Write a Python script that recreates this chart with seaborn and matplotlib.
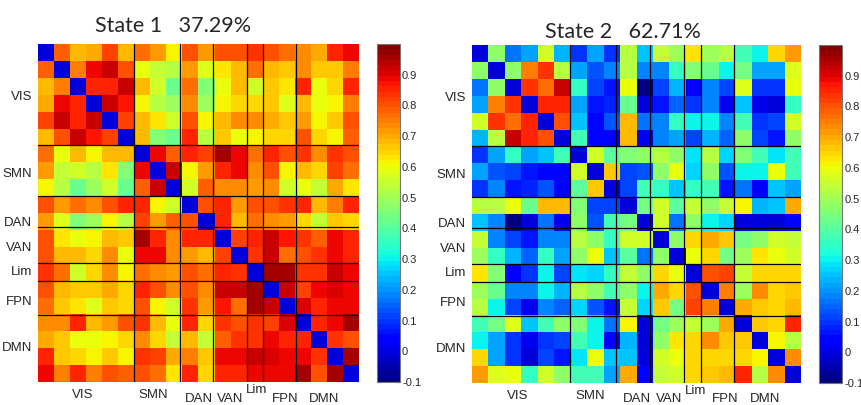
import numpy as np
import matplotlib
matplotlib.use("Agg")
import matplotlib.pyplot as plt
import matplotlib.transforms as mtrans
import seaborn as sns

# ---------------- data ----------------
network_labels = ["VIS", "SMN", "DAN", "VAN", "Lim", "FPN", "DMN"]
xlabel_pos = [2.8, 7.2, 10.0, 12.0, 13.6, 15.4, 17.8]
ylabel_pos = [3.05, 7.6, 10.5, 12.0, 13.4, 15.2, 17.9]
cbar_ticks = [-0.1, 0.0, 0.1, 0.2, 0.3, 0.4, 0.5, 0.6, 0.7, 0.8, 0.9]
cbar_ticklabels = ["-0.1", "0", "0.1", "0.2", "0.3", "0.4", "0.5", "0.6", "0.7", "0.8", "0.9"]
titles = ["State 1   37.29%", "State 2   62.71%"]
diag_value = 0.0

# upper triangles (row i holds columns i+1 .. 19)
state1_upper = [
    [0.78, 0.68, 0.70, 0.82, 0.68, 0.77, 0.72, 0.62, 0.80, 0.72, 0.80, 0.80, 0.84, 0.81, 0.76, 0.73, 0.70, 0.85, 0.88],
    [0.75, 0.88, 0.93, 0.81, 0.60, 0.55, 0.52, 0.71, 0.58, 0.63, 0.69, 0.77, 0.69, 0.66, 0.74, 0.66, 0.66, 0.75],
    [0.86, 0.85, 0.93, 0.69, 0.57, 0.42, 0.77, 0.46, 0.60, 0.68, 0.57, 0.66, 0.63, 0.85, 0.60, 0.65, 0.85],
    [0.93, 0.87, 0.61, 0.53, 0.50, 0.73, 0.50, 0.61, 0.65, 0.65, 0.66, 0.58, 0.69, 0.60, 0.62, 0.75],
    [0.82, 0.69, 0.63, 0.57, 0.80, 0.61, 0.69, 0.74, 0.73, 0.70, 0.67, 0.71, 0.61, 0.66, 0.81],
    [0.69, 0.46, 0.42, 0.86, 0.52, 0.66, 0.59, 0.62, 0.65, 0.65, 0.81, 0.65, 0.61, 0.78],
    [0.88, 0.78, 0.85, 0.82, 0.95, 0.89, 0.77, 0.86, 0.80, 0.83, 0.74, 0.84, 0.81],
    [0.92, 0.61, 0.72, 0.85, 0.88, 0.73, 0.81, 0.62, 0.68, 0.65, 0.82, 0.77],
    [0.57, 0.78, 0.73, 0.73, 0.71, 0.74, 0.57, 0.59, 0.54, 0.70, 0.63],
    [0.80, 0.86, 0.71, 0.80, 0.80, 0.83, 0.85, 0.68, 0.75, 0.86],
    [0.86, 0.68, 0.77, 0.74, 0.72, 0.64, 0.54, 0.66, 0.65],
    [0.82, 0.85, 0.92, 0.87, 0.83, 0.78, 0.89, 0.85],
    [0.83, 0.93, 0.77, 0.80, 0.83, 0.88, 0.86],
    [0.95, 0.95, 0.84, 0.84, 0.92, 0.89],
    [0.93, 0.82, 0.88, 0.90, 0.89],
    [0.91, 0.85, 0.89, 0.89],
    [0.86, 0.89, 0.96],
    [0.83, 0.81],
    [0.95],
]

state2_upper = [
    [0.48, 0.17, 0.21, 0.57, 0.23, 0.10, 0.22, 0.10, 0.52, 0.26, 0.55, 0.50, 0.63, 0.50, 0.53, 0.37, 0.30, 0.65, 0.71],
    [0.48, 0.75, 0.84, 0.52, 0.21, 0.13, 0.19, 0.53, 0.18, 0.19, 0.35, 0.46, 0.43, 0.30, 0.44, 0.21, 0.21, 0.58],
    [0.84, 0.77, 0.93, 0.35, 0.11, 0.07, 0.59, -0.09, 0.11, 0.24, 0.03, 0.18, 0.11, 0.58, 0.09, 0.10, 0.60],
    [0.86, 0.86, 0.21, 0.06, 0.08, 0.43, -0.01, 0.07, 0.15, 0.10, 0.19, 0.01, 0.25, 0.02, 0.00, 0.35],
    [0.80, 0.25, 0.04, 0.13, 0.68, 0.17, 0.18, 0.35, 0.30, 0.30, 0.18, 0.37, 0.10, 0.12, 0.57],
    [0.37, 0.04, 0.03, 0.68, 0.01, 0.18, 0.22, 0.12, 0.23, 0.15, 0.47, 0.12, 0.06, 0.47],
    [0.57, 0.41, 0.46, 0.47, 0.52, 0.47, 0.28, 0.52, 0.27, 0.45, 0.37, 0.29, 0.37],
    [0.67, 0.12, 0.13, 0.47, 0.60, 0.27, 0.47, 0.13, 0.30, 0.30, 0.60, 0.38],
    [0.12, 0.37, 0.35, 0.25, 0.36, 0.37, 0.07, 0.17, 0.03, 0.25, 0.22],
    [0.44, 0.57, 0.40, 0.54, 0.47, 0.55, 0.61, 0.23, 0.25, 0.70],
    [0.57, 0.17, 0.47, 0.30, 0.27, 0.00, 0.00, -0.01, 0.05],
    [0.47, 0.64, 0.70, 0.67, 0.44, 0.47, 0.57, 0.55],
    [0.60, 0.65, 0.44, 0.50, 0.63, 0.60, 0.57],
    [0.80, 0.82, 0.54, 0.65, 0.65, 0.65],
    [0.75, 0.50, 0.74, 0.65, 0.66],
    [0.70, 0.66, 0.64, 0.69],
    [0.66, 0.65, 0.85],
    [0.62, 0.52],
    [0.74],
]

# ---------------- style ----------------
n = 20
left_vlines = [6.0, 8.85, 10.9, 13.0, 14.0, 16.1]
right_vlines = [5.94, 8.74, 10.8, 12.9, 13.9, 15.9]
hlines = [5.95, 9.0, 10.85, 12.95, 14.0, 16.05]
xlabel_drop_px = [7, 7, 10.5, 10.5, 2, 10.5, 10.5]


def full_matrix(upper):
    m = np.zeros((n, n))
    for i, row in enumerate(upper):
        m[i, i + 1:] = row
    m = m + m.T
    np.fill_diagonal(m, diag_value)
    return m


sns.set_theme(style="white")
plt.rcParams["font.family"] = ["Liberation Sans", "DejaVu Sans"]

W, H = 862, 405
fig = plt.figure(figsize=(W / 100, H / 100), dpi=100)
fig.patch.set_facecolor("white")

axL = fig.add_axes([38 / W, 1 - 382 / H, 321 / W, 338 / H])
caxL = fig.add_axes([377 / W, 1 - 382 / H, 23 / W, 338 / H])
axR = fig.add_axes([472 / W, 1 - 383 / H, 329 / W, 338 / H])
caxR = fig.add_axes([819.5 / W, 1 - 383 / H, 23 / W, 338 / H])

jet64 = plt.get_cmap("jet", 64)


def draw(ax, cax, mat, vlines):
    sns.heatmap(mat, ax=ax, cbar_ax=cax, cmap=jet64, vmin=-0.1, vmax=1.0,
                xticklabels=False, yticklabels=False)
    for v in vlines:
        ax.axvline(v, color="black", lw=0.9)
    for h in hlines:
        ax.axhline(h, color="black", lw=0.9)
    ax.set_xticks(xlabel_pos)
    ax.set_xticklabels(network_labels, fontsize=9.5, rotation=0)
    ax.set_yticks(ylabel_pos)
    ax.set_yticklabels(network_labels, fontsize=9.5, rotation=0)
    ax.tick_params(axis="both", length=0)
    ax.tick_params(axis="x", pad=0)
    ax.tick_params(axis="y", pad=4)
    for lab, d in zip(ax.get_xticklabels(), xlabel_drop_px):
        lab.set_transform(lab.get_transform() +
                          mtrans.ScaledTranslation(0, -d / 100, fig.dpi_scale_trans))
    for s in ax.spines.values():
        s.set_visible(False)

    cbar = ax.collections[0].colorbar
    cbar.set_ticks(cbar_ticks)
    cbar.set_ticklabels(cbar_ticklabels)
    cbar.outline.set_visible(True)
    cbar.outline.set_edgecolor("#777777")
    cbar.outline.set_linewidth(0.8)
    cax.tick_params(axis="y", direction="in", length=3, width=0.8, color="black",
                    left=True, right=True, labelleft=False, labelright=True,
                    labelsize=8, pad=1.5)


draw(axL, caxL, full_matrix(state1_upper), left_vlines)
draw(axR, caxR, full_matrix(state2_upper), right_vlines)

fig.text(95 / W, 1 - 31.7 / H, titles[0], fontsize=15.5, family="Lato",
         ha="left", va="baseline")
fig.text(545 / W, 1 - 38.3 / H, titles[1], fontsize=15.5, family="Lato",
         ha="left", va="baseline")

fig.savefig("out.png", dpi=100, facecolor="white")
